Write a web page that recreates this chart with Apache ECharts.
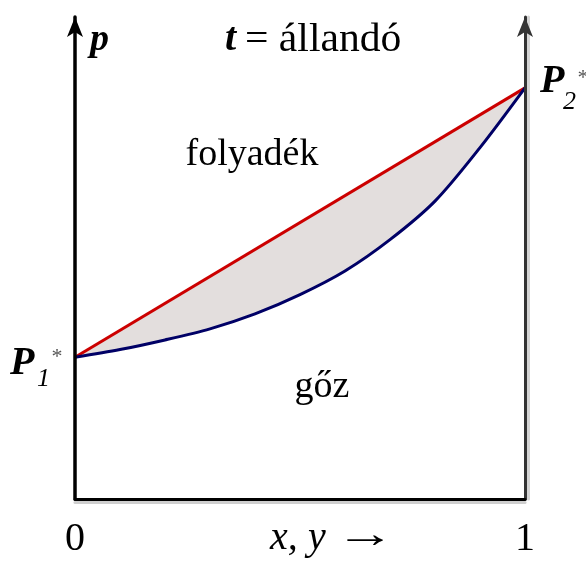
<!DOCTYPE html>
<html>
<head>
<meta charset="utf-8">
<script src="https://cdn.jsdelivr.net/npm/echarts@6/dist/echarts.min.js"></script>
<style>
  html, body { margin: 0; padding: 0; background: #ffffff; }
  #chart { width: 586px; height: 562px; }
</style>
</head>
<body>
<div id="chart"></div>
<script>
// Pressure–composition diagram at constant temperature (ideal binary mixture)
// Liquid (bubble) line: straight between the two pure-component vapour pressures
const liquidX = [0, 1];
const liquidP = [29.4, 85.3];
// Vapour (dew) line
const vaporX = [0, 0.1, 0.2, 0.3, 0.4, 0.5, 0.6, 0.7, 0.8, 0.9, 1];
const vaporP = [29.4, 31.0, 33.0, 35.3, 38.4, 42.4, 47.3, 53.8, 61.8, 72.9, 85.3];
// Composition axis ticks
const xTicks = [0, 1];

const SERIF = '"Liberation Serif", "DejaVu Serif", serif';

const liquidData = liquidX.map((x, i) => [x, liquidP[i]]);
const vaporData = vaporX.map((x, i) => [x, vaporP[i]]);

const chart = echarts.init(document.getElementById('chart'), null, { renderer: 'canvas' });

function txt(text, x, y, size, opts) {
  opts = opts || {};
  return {
    type: 'text',
    x: x,
    y: y,
    scaleX: opts.scaleX || 1,
    z: 100,
    style: {
      text: text,
      fontFamily: SERIF,
      fontSize: size,
      fontWeight: opts.weight || 'normal',
      fontStyle: opts.style || 'normal',
      fill: opts.color || '#000000',
      align: opts.align || 'left',
      verticalAlign: 'middle'
    }
  };
}

const option = {
  backgroundColor: '#ffffff',
  animation: false,
  grid: { left: 75, right: 61, top: 17, bottom: 63, containLabel: false, outerBoundsMode: 'none' },
  xAxis: {
    type: 'value',
    min: xTicks[0],
    max: xTicks[xTicks.length - 1],
    interval: 1,
    z: 10,
    splitLine: { show: false },
    axisTick: { show: false },
    axisLine: {
      show: true,
      onZero: false,
      lineStyle: { color: '#000000', width: 3, shadowColor: '#cfcfcf', shadowOffsetY: 3, shadowBlur: 0 }
    },
    axisLabel: {
      show: true,
      showMinLabel: true,
      showMaxLabel: true,
      margin: 20,
      fontFamily: SERIF,
      fontSize: 40,
      color: '#000000',
      formatter: v => String(v)
    }
  },
  yAxis: [
    {
      type: 'value',
      min: 0,
      max: 100,
      position: 'left',
      z: 10,
      splitLine: { show: false },
      axisTick: { show: false },
      axisLabel: { show: false },
      axisLine: {
        show: true,
        onZero: false,
        symbol: ['none', 'arrow'],
        symbolSize: [12, 20],
        lineStyle: { color: '#000000', width: 3.5 }
      }
    },
    {
      type: 'value',
      min: 0,
      max: 100,
      position: 'right',
      z: 10,
      splitLine: { show: false },
      axisTick: { show: false },
      axisLabel: { show: false },
      axisLine: {
        show: true,
        onZero: false,
        symbol: ['none', 'arrow'],
        symbolSize: [12, 20],
        lineStyle: { color: '#333333', width: 3, shadowColor: '#d4d4d4', shadowOffsetX: 3, shadowBlur: 0 }
      }
    }
  ],
  series: [
    {
      // two-phase region: filled beneath the liquid line …
      type: 'line',
      data: liquidData,
      showSymbol: false,
      lineStyle: { width: 0 },
      areaStyle: { color: '#e3dedd', opacity: 1, origin: 'start' },
      z: 1,
      silent: true
    },
    {
      // … and cleared beneath the vapour line
      type: 'line',
      data: vaporData,
      smooth: 0.3,
      showSymbol: false,
      lineStyle: { width: 0 },
      areaStyle: { color: '#ffffff', opacity: 1, origin: 'start' },
      z: 2,
      silent: true
    },
    {
      name: 'gőz görbe',
      type: 'line',
      data: vaporData,
      smooth: 0.3,
      showSymbol: false,
      lineStyle: { color: '#000066', width: 3 },
      z: 4
    },
    {
      name: 'folyadék görbe',
      type: 'line',
      data: liquidData,
      showSymbol: false,
      lineStyle: { color: '#cc0000', width: 3 },
      z: 3
    }
  ],
  graphic: [
    txt('p', 90, 40, 38, { weight: 'bold', style: 'italic' }),
    txt('t', 225, 40, 40, { weight: 'bold', style: 'italic' }),
    txt('= állandó', 245, 40, 40, { scaleX: 1.04 }),
    txt('folyadék', 252, 155, 38, { align: 'center' }),
    txt('gőz', 322, 387, 38, { align: 'center' }),
    txt('x,', 270, 538, 40, { style: 'italic' }),
    txt('y', 308, 538, 40, { style: 'italic' }),
    txt('→', 335, 536, 40, { scaleX: 1.5 }),
    txt('P', 10, 364, 40, { weight: 'bold', style: 'italic' }),
    txt('1', 37, 379, 26, { style: 'italic' }),
    txt('*', 57, 357, 22, { color: '#555555', align: 'center' }),
    txt('P', 540, 82, 40, { weight: 'bold', style: 'italic' }),
    txt('2', 563, 102, 26, { style: 'italic' }),
    txt('*', 583, 78, 22, { color: '#555555', align: 'center' })
  ]
};

chart.setOption(option);
</script>
</body>
</html>
